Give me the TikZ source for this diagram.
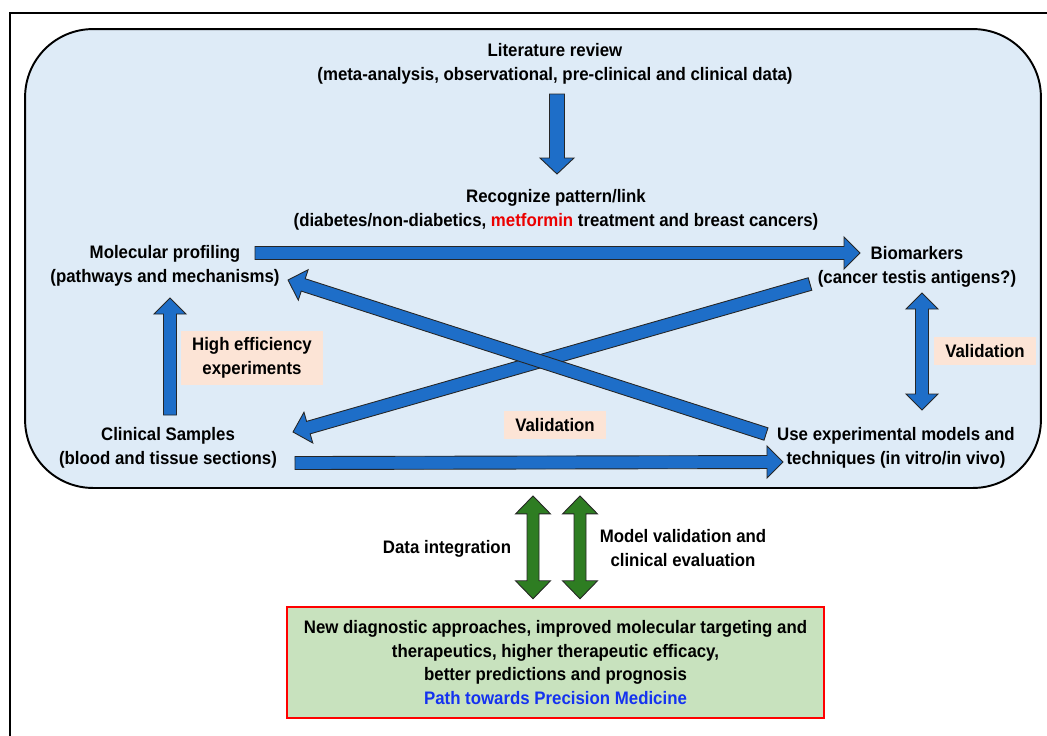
\documentclass[tikz,border=0pt]{standalone}
\usepackage{fontspec}
\setmainfont{Liberation Sans}[FakeStretch=0.93]
\usetikzlibrary{calc}
\definecolor{panelBlue}{RGB}{222,235,247}
\definecolor{arrowBlue}{RGB}{30,110,200}
\definecolor{arrowGreen}{RGB}{46,125,34}
\definecolor{peachFill}{RGB}{252,228,214}
\definecolor{outGreen}{RGB}{200,226,190}
\definecolor{metRed}{RGB}{235,0,0}
\definecolor{pathBlue}{RGB}{20,50,240}

% block arrow sizes (half shaft, half head, head length)
\def\shaftw{0.13cm}
\def\headw{0.32cm}
\def\headlen{0.32cm}

\newcommand{\blockarrow}[3][blockBlue]{%
  \coordinate (ba-a) at (#2);
  \coordinate (ba-b) at (#3);
  \coordinate (ba-h) at ($(ba-b)!\headlen!(ba-a)$);
  \filldraw[#1] ($(ba-a)!\shaftw!90:(ba-b)$) -- ($(ba-h)!\shaftw!90:(ba-b)$)
    -- ($(ba-h)!\headw!90:(ba-b)$) -- (ba-b) -- ($(ba-h)!\headw!-90:(ba-b)$)
    -- ($(ba-h)!\shaftw!-90:(ba-b)$) -- ($(ba-a)!\shaftw!-90:(ba-b)$) -- cycle;
}
\newcommand{\dblockarrow}[3][blockBlue]{%
  \coordinate (ba-a) at (#2);
  \coordinate (ba-b) at (#3);
  \coordinate (ba-h) at ($(ba-a)!\headlen!(ba-b)$);
  \coordinate (ba-k) at ($(ba-b)!\headlen!(ba-a)$);
  \filldraw[#1] (ba-a) -- ($(ba-h)!\headw!90:(ba-b)$) -- ($(ba-h)!\shaftw!90:(ba-b)$)
    -- ($(ba-k)!\shaftw!90:(ba-b)$) -- ($(ba-k)!\headw!90:(ba-b)$) -- (ba-b)
    -- ($(ba-k)!\headw!-90:(ba-b)$) -- ($(ba-k)!\shaftw!-90:(ba-b)$)
    -- ($(ba-h)!\shaftw!-90:(ba-b)$) -- ($(ba-h)!\headw!-90:(ba-b)$) -- cycle;
}

\begin{document}
\begin{tikzpicture}[x=0.02cm, y=-0.02cm,
    font=\fontsize{10.3}{13.6}\selectfont\bfseries,
    txt/.style={align=center, inner sep=0pt},
    notebox/.style={fill=peachFill, align=center, inner xsep=0.23cm, inner ysep=0.14cm},
    blockBlue/.style={fill=arrowBlue, draw=black!85, line width=0.5pt},
    blockGreen/.style={fill=arrowGreen, draw=black!85, line width=0.5pt}]
\useasboundingbox (0,0) rectangle (1047,735);

% frame and panel
\draw[line width=1.1pt] (10,740) -- (10,13) -- (1050,13);
\node[draw, line width=1.1pt, fill=panelBlue, rounded corners=1.36cm,
      minimum width=20.32cm, minimum height=9.18cm] (panel) at (533,258.5) {};

% texts
\node[txt] (lit) at (555,64) {Literature review\\(meta-analysis, observational, pre-clinical and clinical data)};
\node[txt] (recog) at (556,210) {Recognize pattern/link\\(diabetes/non-diabetics, \textcolor{metRed}{metformin} treatment and breast cancers)};
\node[txt] (molprof) at (165,266) {Molecular profiling\\(pathways and mechanisms)};
\node[txt] (bio) at (917,267) {Biomarkers\\(cancer testis antigens?)};
\node[txt] (clin) at (168,448) {Clinical Samples\\(blood and tissue sections)};
\node[txt] (useexp) at (896,448) {Use experimental models and\\techniques (in vitro/in vivo)};
\node[notebox] (hebox) at (252,358) {High efficiency\\experiments};
\node[notebox] (valmid) at (555,425) {Validation};
\node[notebox] (valright) at (985,351) {Validation};
\node[txt] (dataint) at (447,549) {Data integration};
\node[txt] (modval) at (683,548) {Model validation and\\clinical evaluation};
\node[draw=red, line width=1.4pt, fill=outGreen, align=center,
      minimum width=10.74cm, minimum height=2.22cm] (outcome) at (555.5,662.5)
  {New diagnostic approaches, improved molecular targeting and\\therapeutics, higher therapeutic efficacy,\\better predictions and prognosis\\\textcolor{pathBlue}{Path towards Precision Medicine}};

% blue arrows
\begin{scope}
  \def\shaftw{0.15cm}\def\headw{0.34cm}
  \blockarrow{$(lit)+(2,30)$}{$(recog)+(1,-36)$}
\end{scope}
\blockarrow{$(molprof)+(90,-13)$}{$(bio)+(-57,-14)$}
\blockarrow{$(clin)+(2,-33)$}{$(molprof)+(5,32)$}
\blockarrow{$(clin)+(127,15)$}{$(useexp)+(-113,14)$}
\blockarrow{$(bio)+(-107,17)$}{$(clin)+(125,-16)$}
\blockarrow{$(useexp)+(-130,-14)$}{$(molprof)+(123,14)$}
\dblockarrow{$(bio)+(5,26)$}{$(useexp)+(26,-38)$}

% green arrows
\begin{scope}
  \def\shaftw{0.12cm}\def\headw{0.35cm}\def\headlen{0.36cm}
  \dblockarrow[blockGreen]{$(panel.south)+(0,7)$}{$(outcome.north)+(-22.5,-7)$}
  \dblockarrow[blockGreen]{$(panel.south)+(47,7)$}{$(outcome.north)+(24.5,-7)$}
\end{scope}
\end{tikzpicture}
\end{document}
